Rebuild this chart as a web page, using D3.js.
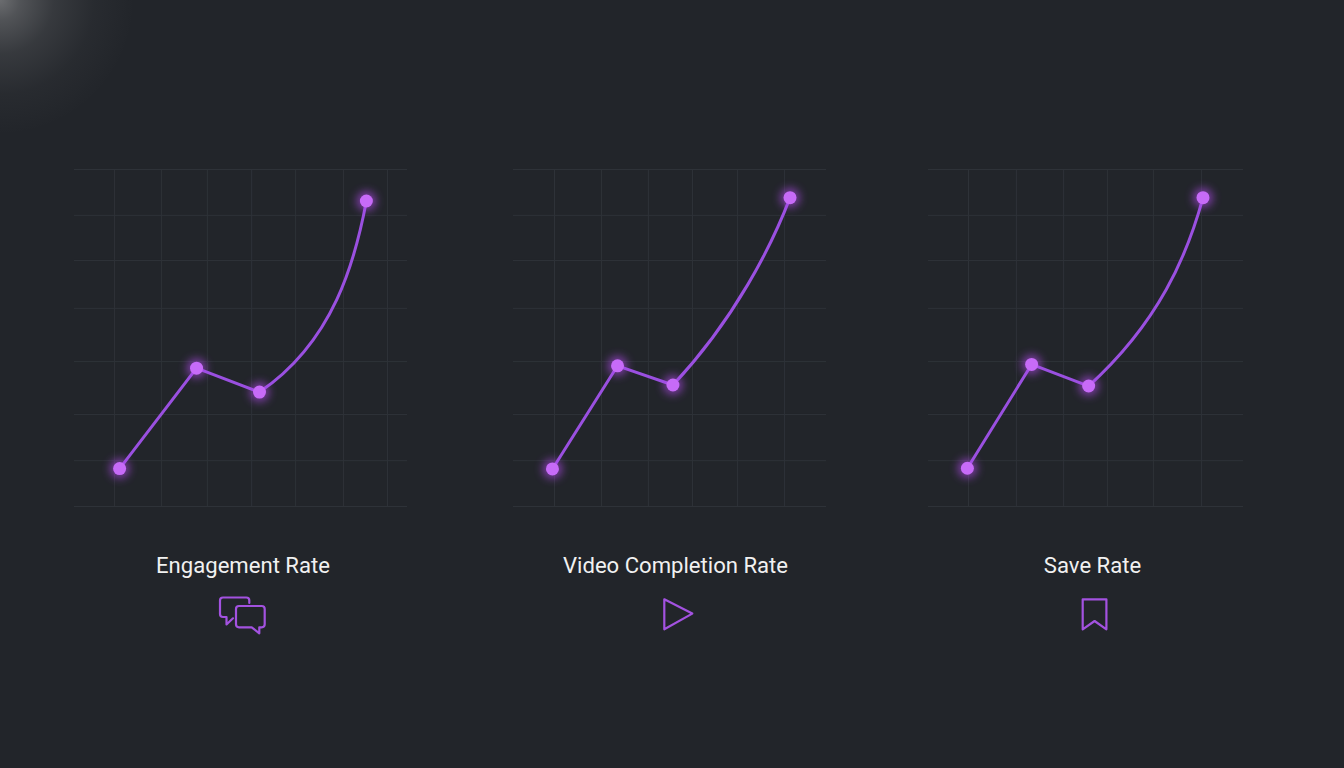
<!DOCTYPE html>
<html>
<head>
<meta charset="utf-8">
<script src="https://cdn.jsdelivr.net/npm/d3@7"></script>
<style>
  html, body { margin: 0; padding: 0; background: #22252a; overflow: hidden; }
  svg { display: block; }
  text { font-family: Roboto, sans-serif; }
</style>
</head>
<body>
<script>
// Metric names
const metricNames = ["Engagement Rate", "Video Completion Rate", "Save Rate"];

// Four readings per metric: the first three are joined straight, the last is reached by a curve
const engagementX = [13.7, 36.8, 55.7, 87.8];
const engagementY = [11.1, 40.9, 33.8, 90.5];
const completionX = [12.6, 33.4, 51.1, 88.5];
const completionY = [11.0, 41.6, 35.9, 91.5];
const saveX = [12.5, 32.9, 51.0, 87.3];
const saveY = [11.2, 42.0, 35.6, 91.5];

// Handles shaping the closing curve of each metric
const engagementHandleX = [78.1, 84.5];
const engagementHandleY = [48.8, 73.1];
const completionHandleX = [70.8, 82.8];
const completionHandleY = [55.4, 77.5];
const saveHandleX = [73.3, 82.3];
const saveHandleY = [54.5, 74.4];

// Grid positions along each axis
const gridY = [0, 13.6, 27.3, 43, 58.8, 73, 86.4, 100];
const engagementGridX = [12, 26.1, 39.9, 53.2, 66.4, 80.8, 94];
const completionGridX = [13.1, 28.1, 43.1, 57.2, 71.6, 86.6];
const saveGridX = [12.7, 27.9, 42.9, 56.8, 71.4, 86.7];

const WIDTH = 1344, HEIGHT = 768;
const TOP = 169, BOTTOM = 506;
const panels = [
  { name: metricNames[0], xs: engagementX, ys: engagementY, hx: engagementHandleX, hy: engagementHandleY, grid: engagementGridX, left: 74, right: 407, labelX: 243, icon: "chat" },
  { name: metricNames[1], xs: completionX, ys: completionY, hx: completionHandleX, hy: completionHandleY, grid: completionGridX, left: 513, right: 826, labelX: 675.5, icon: "play" },
  { name: metricNames[2], xs: saveX, ys: saveY, hx: saveHandleX, hy: saveHandleY, grid: saveGridX, left: 928, right: 1243, labelX: 1092.5, icon: "bookmark" }
];

const svg = d3.select("body").append("svg").attr("width", WIDTH).attr("height", HEIGHT);
const defs = svg.append("defs");

// Soft light falling from the top-left corner
const corner = defs.append("radialGradient").attr("id", "corner")
  .attr("gradientUnits", "userSpaceOnUse")
  .attr("cx", 0).attr("cy", 0).attr("r", 135);
[[0, 0.42], [0.15, 0.27], [0.4, 0.12], [0.7, 0.035], [1, 0]].forEach(([o, a]) =>
  corner.append("stop").attr("offset", o).attr("stop-color", "#d0d0d0").attr("stop-opacity", a));

defs.append("filter").attr("id", "glow")
  .attr("x", "-100%").attr("y", "-100%").attr("width", "300%").attr("height", "300%")
  .append("feGaussianBlur").attr("stdDeviation", 4);

svg.append("rect").attr("width", WIDTH).attr("height", HEIGHT).attr("fill", "#22252a");
svg.append("rect").attr("width", 140).attr("height", 140).attr("fill", "url(#corner)");

const GRID = "#2e3238", LINE = "#9a50e0", DOT = "#c76bf8", ICON = "#a352e0";

const icons = {
  chat: [
    "M249.3 603 V600.5 Q249.3 597.5 246.3 597.5 H223 Q220 597.5 220 600.5 V614 Q220 617 223 617 H226.5 V624.5 L233 618.3",
    "M239 606 H261.7 Q264.7 606 264.7 609 V624.3 Q264.7 627.3 261.7 627.3 H259.3 V633.3 L251.7 627.3 H239 Q236 627.3 236 624.3 V609 Q236 606 239 606 Z"
  ],
  play: ["M664.3 599.3 L692.3 613.6 L664.3 629.3 Z"],
  bookmark: ["M1082.7 599.3 H1106.4 V629.3 L1094.6 621 L1082.7 629.3 Z"]
};

panels.forEach(p => {
  const x = d3.scaleLinear().domain([0, 100]).range([p.left, p.right]);
  const y = d3.scaleLinear().domain([0, 100]).range([BOTTOM, TOP]);
  const g = svg.append("g");

  // Grid lines come from tick marks; the axes carry no labels
  const xGrid = d3.axisBottom(x).tickValues(p.grid).tickSize(-(BOTTOM - TOP)).tickFormat("");
  const yGrid = d3.axisLeft(y).tickValues(gridY).tickSize(-(p.right - p.left)).tickFormat("");
  [g.append("g").attr("transform", `translate(0,${BOTTOM})`).call(xGrid),
   g.append("g").attr("transform", `translate(${p.left},0)`).call(yGrid)].forEach(a => {
    a.select(".domain").remove();
    a.selectAll("line").attr("stroke", GRID).attr("stroke-width", 1);
  });

  const pts = p.xs.map((v, i) => [v, p.ys[i]]);
  const trend = d3.path();
  trend.moveTo(x(pts[0][0]), y(pts[0][1]));
  trend.lineTo(x(pts[1][0]), y(pts[1][1]));
  trend.lineTo(x(pts[2][0]), y(pts[2][1]));
  trend.bezierCurveTo(x(p.hx[0]), y(p.hy[0]), x(p.hx[1]), y(p.hy[1]), x(pts[3][0]), y(pts[3][1]));
  g.append("path").attr("d", trend.toString()).attr("fill", "none").attr("stroke", LINE)
    .attr("stroke-width", 3).attr("stroke-linecap", "round").attr("stroke-linejoin", "round");

  g.selectAll("circle.halo").data(pts).join("circle").attr("class", "halo")
    .attr("cx", d => x(d[0])).attr("cy", d => y(d[1])).attr("r", 10)
    .attr("fill", "#b44cf0").attr("opacity", 0.6).attr("filter", "url(#glow)");
  g.selectAll("circle.dot").data(pts).join("circle").attr("class", "dot")
    .attr("cx", d => x(d[0])).attr("cy", d => y(d[1])).attr("r", 6.5)
    .attr("fill", DOT);

  g.append("text").attr("x", p.labelX).attr("y", 573).attr("text-anchor", "middle")
    .attr("font-size", 22.1).attr("fill", "#f1f1f1").text(p.name);

  g.selectAll("path.icon").data(icons[p.icon]).join("path").attr("class", "icon")
    .attr("d", d => d).attr("fill", "none").attr("stroke", ICON)
    .attr("stroke-width", 2.2).attr("stroke-linejoin", "round").attr("stroke-linecap", "round");
});
</script>
</body>
</html>
